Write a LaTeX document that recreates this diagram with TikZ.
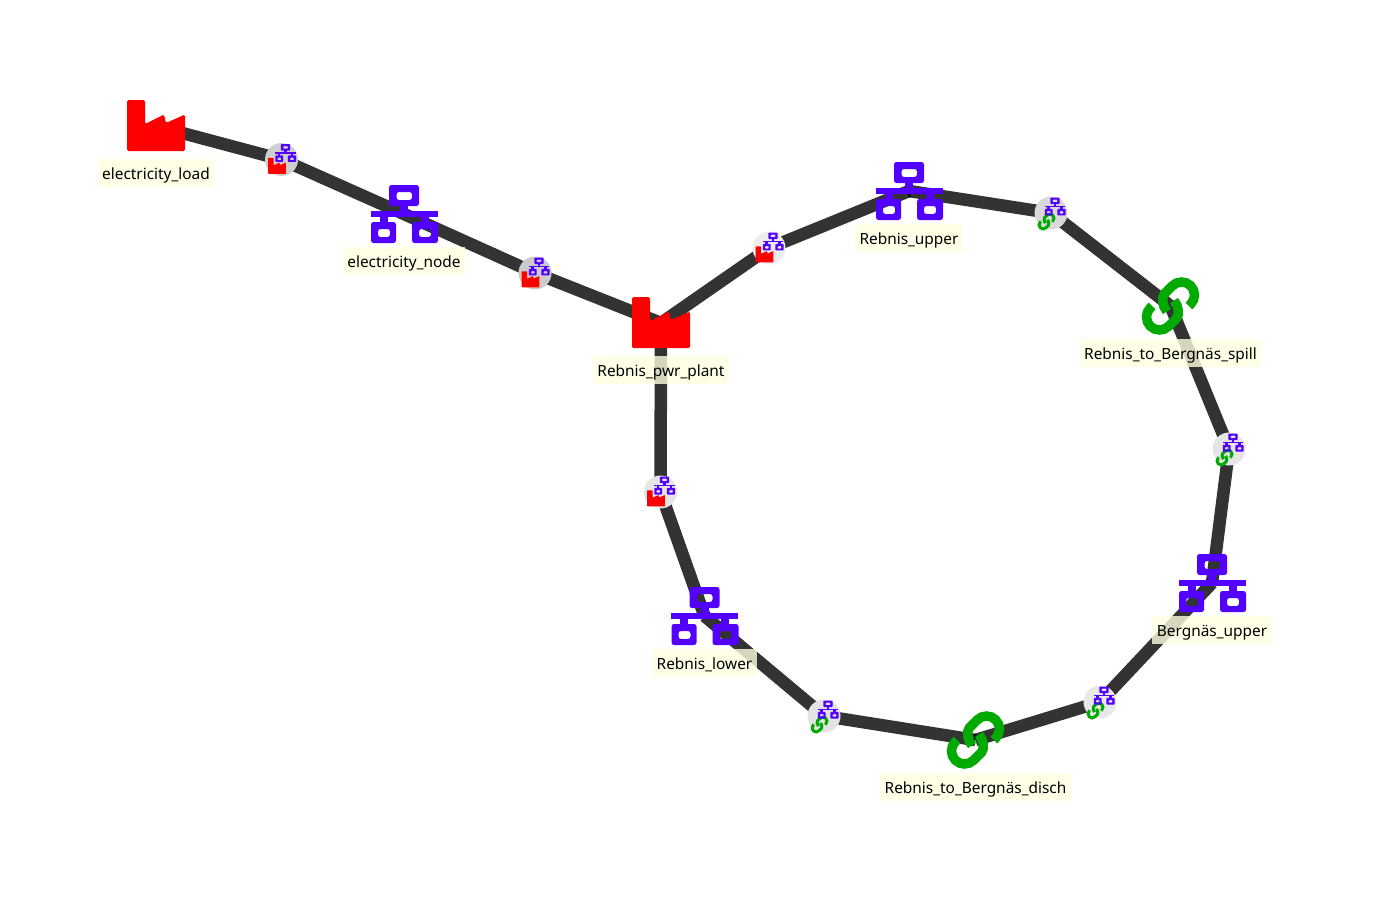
\documentclass[tikz,border=0pt]{standalone}
\usepackage{fontspec}
\setmainfont{Noto Sans}
\usetikzlibrary{positioning,calc,backgrounds}

\definecolor{netblue}{HTML}{5200FF}
\definecolor{linkgreen}{HTML}{00AA00}
\definecolor{lblfill}{HTML}{FFFFE1}

\tikzset{
  pics/factory/.style={code={
    \fill[red,rounded corners=#1] (-29,-26) -- (-11,-26) -- (-11,-2) -- (8,-11.5) -- (10,-3) -- (29,-11.5)
      -- (29,25) -- (-29,25) -- cycle;
  }},
  pics/network/.style={code={
    \fill[netblue,even odd rule,rounded corners=#1] (-15,-29) rectangle (15,-8) (-7.5,-22) rectangle (8,-14);
    \fill[netblue,even odd rule,rounded corners=#1] (-33,8) rectangle (-8,29) (-26,15) rectangle (-14,23);
    \fill[netblue,even odd rule,rounded corners=#1] (8,8) rectangle (34,29) (15,15) rectangle (27,23);
    \fill[netblue] (-33.5,-3) rectangle (33.5,3);
    \fill[netblue] (-4,-9) rectangle (4,-2);
    \fill[netblue] (-24.5,2) rectangle (-16.5,9);
    \fill[netblue] (16.5,2) rectangle (24.5,9);
  }},
  pics/link/.style={code={
    \foreach \a in {0,180}{
      \draw[linkgreen,line width=#1,rotate=\a] (18.4,0) -- (20.2,-1.8)
        arc[start angle=45,end angle=-135,radius=13] -- (-6,-12.4)
        .. controls (-9,-9) and (-8.5,0) .. (-3.5,5.5);
    }
  }}
}

\begin{document}
\begin{tikzpicture}[
  x=1pt,y=-1pt,
  icon/.style={inner sep=0pt,minimum width=60pt,minimum height=58pt},
  port/.style={circle,inner sep=0pt,minimum size=33pt,fill=#1},
  port/.default={black!9},
  mini/.style={scale=.31},
  lbl/.style={fill=lblfill,fill opacity=.8,text opacity=1,inner xsep=4.5pt,inner ysep=0pt,
    minimum height=28pt,text height=15pt,text depth=3.5pt,font=\fontsize{15.4}{15}\selectfont,below=4pt of #1},
  conn/.style={draw=black,draw opacity=.8,line width=12.5pt}
]
\useasboundingbox (0,0) rectangle (1384,898);

% ---- component nodes ----
\node[icon] (load) at (156,126) {};
\node[icon] (elec) at (404,214) {};
\node[icon] (plant) at (661,323) {};
\node[icon] (upper) at (909,191) {};
\node[icon] (spill) at (1170.5,306) {};
\node[icon] (bupper) at (1212,583) {};
\node[icon] (disch) at (975.5,740) {};
\node[icon] (lower) at (704.5,616) {};

% ---- ports ----
\node[port=black!19] (p1) at (281.5,159.5) {};
\node[port=black!20] (p2) at (535,273) {};
\node[port=black!7] (p3) at (769,248) {};
\node[port=black!10] (p4) at (660.5,492) {};
\node[port=black!15] (p5) at (1051,213) {};
\node[port=black!10] (p6) at (1229,449) {};
\node[port=black!9] (p7) at (1100,702) {};
\node[port=black!11] (p8) at (824,716) {};

% ---- connectors ----
\begin{scope}[on background layer]
  \draw[conn] (load.center) -- (p1.center);
  \draw[conn] (p1.center) -- (elec.center);
  \draw[conn] (elec.center) -- (p2.center);
  \draw[conn] (p2.center) -- (plant.center);
  \draw[conn] (plant.center) -- (p3.center);
  \draw[conn] (p3.center) -- (upper.center);
  \draw[conn] (upper.center) -- (p5.center);
  \draw[conn] (p5.center) -- (spill.center);
  \draw[conn] (spill.center) -- (p6.center);
  \draw[conn] (p6.center) -- (bupper.center);
  \draw[conn] (bupper.center) -- (p7.center);
  \draw[conn] (p7.center) -- (disch.center);
  \draw[conn] (disch.center) -- (p8.center);
  \draw[conn] (p8.center) -- (lower.center);
  \draw[conn] (lower.center) -- (p4.center);
  \draw[conn] (p4.center) -- (plant.center);
\end{scope}

% ---- icons ----
\pic at (load) {factory=1.5pt};
\pic at (plant) {factory=1.5pt};
\pic at (elec) {network=2.5pt};
\pic at (upper) {network=2.5pt};
\pic at (bupper) {network=2.5pt};
\pic at (lower) {network=2.5pt};
\pic at (spill) {link=9.5pt};
\pic at (disch) {link=9.5pt};

% ---- port icons ----
\pic[mini] at ($(p1)+(-4.5,6.5)$) {factory=.5pt};
\pic[mini] at ($(p1)+(4,-6.5)$) {network=.7pt};
\pic[mini] at ($(p2)+(-4.5,6.5)$) {factory=.5pt};
\pic[mini] at ($(p2)+(4,-6.5)$) {network=.7pt};
\pic[mini] at ($(p3)+(-4.5,6.5)$) {factory=.5pt};
\pic[mini] at ($(p3)+(4,-6.5)$) {network=.7pt};
\pic[mini] at ($(p4)+(-4.5,6.5)$) {factory=.5pt};
\pic[mini] at ($(p4)+(4,-6.5)$) {network=.7pt};
\pic[mini] at ($(p5)+(-4.5,8.5)$) {link=3pt};
\pic[mini] at ($(p5)+(4,-6.5)$) {network=.7pt};
\pic[mini] at ($(p6)+(-4.5,8.5)$) {link=3pt};
\pic[mini] at ($(p6)+(4,-6.5)$) {network=.7pt};
\pic[mini] at ($(p7)+(-4.5,8.5)$) {link=3pt};
\pic[mini] at ($(p7)+(4,-6.5)$) {network=.7pt};
\pic[mini] at ($(p8)+(-4.5,8.5)$) {link=3pt};
\pic[mini] at ($(p8)+(4,-6.5)$) {network=.7pt};

% ---- labels ----
\node[lbl=load] (load_lbl) {electricity\_load};
\node[lbl=elec] (elec_lbl) {electricity\_node};
\node[lbl=plant] (plant_lbl) {Rebnis\_pwr\_plant};
\node[lbl=upper] (upper_lbl) {Rebnis\_upper};
\node[lbl=spill] (spill_lbl) {Rebnis\_to\_Bergnäs\_spill};
\node[lbl=bupper] (bupper_lbl) {Bergnäs\_upper};
\node[lbl=disch] (disch_lbl) {Rebnis\_to\_Bergnäs\_disch};
\node[lbl=lower] (lower_lbl) {Rebnis\_lower};

\end{tikzpicture}
\end{document}
